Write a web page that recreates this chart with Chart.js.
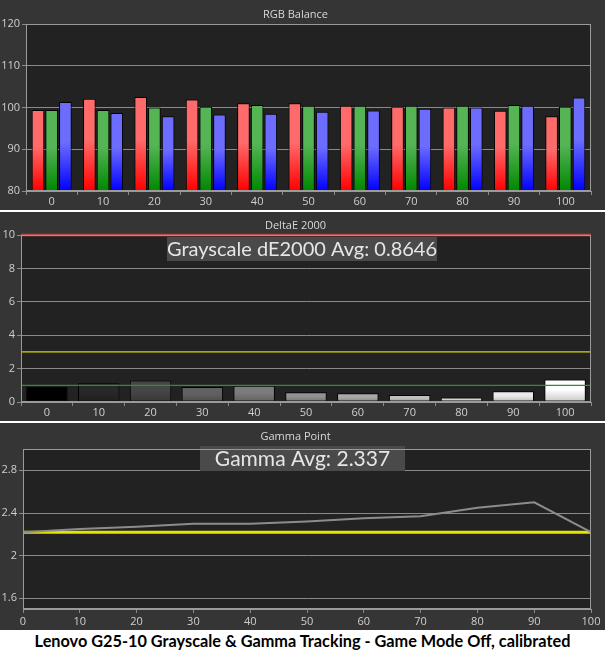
<!DOCTYPE html>
<html><head><meta charset="utf-8">
<script src="https://cdn.jsdelivr.net/npm/chart.js@4/dist/chart.umd.min.js"></script>
<style>
html,body{margin:0;padding:0;background:#fff;width:605px;height:652px;overflow:hidden;}
.p{position:absolute;left:0;width:605px;background:#353535;}
#caption{position:absolute;left:0;top:630px;width:605px;height:22px;text-align:center;font:bold 16.3px Lato,"Open Sans",sans-serif;color:#000;line-height:22px;}
</style></head><body>
<div class="p" style="top:0;height:210px"><canvas id="c1"></canvas></div>
<div class="p" style="top:212px;height:209px"><canvas id="c2"></canvas></div>
<div class="p" style="top:423px;height:207px"><canvas id="c3"></canvas></div>
<div id="caption">Lenovo G25-10 Grayscale &amp; Gamma Tracking - Game Mode Off, calibrated</div>
<script>
const levels = ['0','10','20','30','40','50','60','70','80','90','100'];
const redVals   = [99.4,102.1,102.5,101.9,101.0,101.0,100.4,100.2,100.0,99.2,97.9];
const greenVals = [99.4,99.4,100.0,100.2,100.6,100.4,100.4,100.4,100.4,100.6,100.2];
const blueVals  = [101.3,98.7,97.9,98.3,98.5,99.0,99.3,99.7,100.0,100.4,102.4];
const deltaE    = [0.91,1.12,1.28,0.90,0.97,0.59,0.53,0.42,0.27,0.65,1.35];
const deRefLines = [{v:10,c:'#b84a4a',w:2.5},{v:3,c:'#d6d600',w:1.2},{v:1,c:'#2f8f2f',w:1.2}];
const gammaX    = [0,10,20,30,40,50,60,70,80,90,100];
const gammaVals = [2.22,2.25,2.27,2.30,2.30,2.32,2.35,2.37,2.45,2.50,2.22];
const gammaTarget = [2.22,2.22];
const gammaTargetX = [0,100];
const gammaTicks = [1.6,2.0,2.4,2.8];
const deAvgText = 'Grayscale dE2000 Avg: 0.8646';
const gammaAvgText = 'Gamma Avg: 2.337';

Chart.defaults.font.family = '"Open Sans", sans-serif';
Chart.defaults.color = '#d0d0d0';
Chart.defaults.animation = false;

const GRID = '#8a8a8a';
const FRAME = '#9a9a9a';

const bgPlugin = {
  id:'bg',
  beforeDraw(chart){
    const {ctx, chartArea:a} = chart;
    ctx.save();
    ctx.fillStyle = '#353535';
    ctx.fillRect(0,0,chart.width,chart.height);
    ctx.fillStyle = '#222222';
    ctx.fillRect(a.left,a.top,a.right-a.left,a.bottom-a.top);
    ctx.restore();
  },
  afterDraw(chart){
    const {ctx, chartArea:a} = chart;
    ctx.save();
    ctx.strokeStyle = FRAME; ctx.lineWidth = 1;
    ctx.strokeRect(a.left+0.5,a.top+0.5,a.right-a.left-1,a.bottom-a.top-1);
    ctx.restore();
  }
};

function boxPlugin(text, x0, x1, y0, y1, size){
  return {
    id:'box'+text.length,
    afterDatasetsDraw(chart){
      const ctx = chart.ctx;
      ctx.save();
      ctx.fillStyle = '#4a4a4a';
      ctx.fillRect(x0,y0,x1-x0,y1-y0);
      ctx.fillStyle = '#e6e6e6';
      ctx.font = size+'px Lato, "Open Sans", sans-serif';
      ctx.textAlign = 'center'; ctx.textBaseline = 'middle';
      ctx.fillText(text,(x0+x1)/2,(y0+y1)/2+1);
      ctx.restore();
    }
  };
}

// gradient spanning each bar from its top to the axis bottom
function barGrad(c, top, bottom){
  const ch = c.chart; const a = ch.chartArea;
  if(!a || c.parsed === undefined) return top;
  const yTop = ch.scales.y.getPixelForValue(c.parsed.y);
  const g = ch.ctx.createLinearGradient(0, yTop, 0, a.bottom);
  g.addColorStop(0, top); g.addColorStop(0.45, top); g.addColorStop(1, bottom);
  return g;
}

function yAxis(width, min, max, step, extra){
  return Object.assign({
    min, max,
    afterFit(s){ s.width = width; },
    ticks:{stepSize:step, color:'#cfcfcf', font:{size:11}, padding:2},
    grid:{color:GRID, lineWidth:1, tickLength:4, tickColor:GRID},
    border:{color:FRAME}
  }, extra||{});
}

function titleOpt(text, top, bottom){
  return {display:true, text, color:'#d8d8d8', font:{size:11, weight:'normal', lineHeight:1.2}, padding:{top, bottom}};
}

// Panel 1: RGB balance
new Chart(document.getElementById('c1'), {
  type:'bar',
  data:{labels:levels, datasets:[
    {data:redVals, backgroundColor:c=>barGrad(c,'#ff6a6a','#ff0000')},
    {data:greenVals, backgroundColor:c=>barGrad(c,'#55b555','#008800')},
    {data:blueVals, backgroundColor:c=>barGrad(c,'#6c6cff','#0000ff')}
  ]},
  options:{
    responsive:true, maintainAspectRatio:false,
    layout:{padding:{right:14}},
    datasets:{bar:{borderColor:'#000', borderWidth:1, categoryPercentage:0.8, barPercentage:0.92, borderSkipped:false}},
    plugins:{legend:{display:false}, tooltip:{enabled:false}, title:titleOpt('RGB Balance',8,2.8)},
    scales:{
      x:{afterFit(s){s.height=19;}, ticks:{color:'#cfcfcf', font:{size:11}, padding:0}, grid:{drawOnChartArea:false, tickLength:4, color:GRID}, border:{color:FRAME}},
      y:yAxis(26,80,120,10)
    }
  },
  plugins:[bgPlugin]
});

// Panel 2: DeltaE
const refPlugin = {
  id:'refs',
  afterDatasetsDraw(chart){
    const {ctx, chartArea:a, scales:{y}} = chart;
    ctx.save();
    deRefLines.forEach(r=>{
      const py = y.getPixelForValue(r.v);
      ctx.strokeStyle = r.c; ctx.lineWidth = r.w;
      ctx.beginPath(); ctx.moveTo(a.left,py); ctx.lineTo(a.right,py); ctx.stroke();
    });
    ctx.restore();
  }
};
new Chart(document.getElementById('c2'), {
  type:'bar',
  data:{labels:levels, datasets:[
    {data:deltaE, backgroundColor:c=>{
      const lv = Number(levels[c.dataIndex])/100;
      const t = Math.round(255*Math.pow(lv,0.8));
      const b = Math.round(t*0.78);
      return barGrad(c,`rgb(${t},${t},${t})`,`rgb(${b},${b},${b})`);
    }, borderColor:'#000', borderWidth:1, categoryPercentage:1, barPercentage:0.8, borderSkipped:false}
  ]},
  options:{
    responsive:true, maintainAspectRatio:false,
    layout:{padding:{right:14}},
    plugins:{legend:{display:false}, tooltip:{enabled:false}, title:titleOpt('DeltaE 2000',7.4,2.4)},
    scales:{
      x:{afterFit(s){s.height=19;}, ticks:{color:'#cfcfcf', font:{size:11}, padding:0}, grid:{drawOnChartArea:false, tickLength:4, color:GRID}, border:{color:FRAME}},
      y:yAxis(21,0,10,2)
    }
  },
  plugins:[bgPlugin, refPlugin, boxPlugin(deAvgText,167,437,25,49,20)]
});

// Panel 3: Gamma
new Chart(document.getElementById('c3'), {
  type:'line',
  data:{datasets:[
    {data:gammaTargetX.map((x,i)=>({x, y:gammaTarget[i]})), borderColor:'#e4e400', borderWidth:3, pointRadius:0, order:2},
    {data:gammaX.map((x,i)=>({x, y:gammaVals[i]})), borderColor:'#8c8c8c', borderWidth:2, pointRadius:0, tension:0, order:1}
  ]},
  options:{
    responsive:true, maintainAspectRatio:false,
    layout:{padding:{right:14}},
    plugins:{legend:{display:false}, tooltip:{enabled:false}, title:titleOpt('Gamma Point',7.4,5.4)},
    scales:{
      x:{type:'linear', min:0, max:100, afterFit(s){s.height=21;}, ticks:{stepSize:10, color:'#cfcfcf', font:{size:11}, padding:2}, grid:{drawOnChartArea:false, tickLength:4, color:GRID}, border:{color:FRAME}},
      y:yAxis(23,1.5,3.0,0.4,{afterBuildTicks(s){ s.ticks = gammaTicks.map(v=>({value:v})); }, ticks:{color:'#cfcfcf', font:{size:11}, padding:2, callback:v=>String(+v.toFixed(1))}})
    }
  },
  plugins:[bgPlugin, boxPlugin(gammaAvgText,200,405,23,48,21)]
});
</script>
</body></html>
